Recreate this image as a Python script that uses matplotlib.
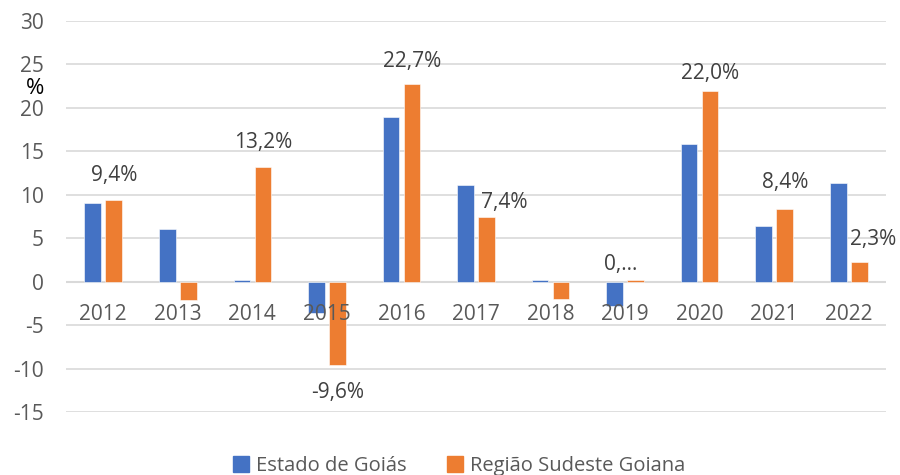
import matplotlib
matplotlib.use('Agg')
import matplotlib.pyplot as plt
import numpy as np
from matplotlib.patches import Patch

plt.rcParams['font.family'] = ['Open Sans', 'DejaVu Sans']

years = ['2012', '2013', '2014', '2015', '2016', '2017', '2018', '2019', '2020', '2021', '2022']
goias = [9.1, 6.1, 0.2, -3.6, 19.0, 11.1, 0.2, -2.8, 15.9, 6.4, 11.4]
sudeste = [9.4, -2.1, 13.2, -9.6, 22.7, 7.4, -2.0, 0.2, 22.0, 8.4, 2.3]
# labels shown on the orange series (None = no label)
sudeste_labels = ['9,4%', None, '13,2%', '-9,6%', '22,7%', '7,4%', None, '0,...', '22,0%', '8,4%', '2,3%']
# label offsets in pixels (dx, dy) relative to the bar end
label_offsets = [(0, 24), None, (0, 24), (0, -27), (0, 23), (18, 15), None, (-15, 15), (0, 17), (0, 26), (14, 22)]

BLUE = '#4472C4'
ORANGE = '#ED7D31'
GRID = '#D9D9D9'
TXT = '#595959'

fig = plt.figure(figsize=(9, 4.75), dpi=100)
ax = fig.add_axes([66 / 900, 1 - 412 / 475, (886 - 66) / 900, (412 - 21) / 475])

x = np.arange(len(years))
w = 0.224
off = 0.141
ax.bar(x - off, goias, w, color=BLUE, edgecolor='white', linewidth=0.4, zorder=1)
ax.bar(x + off, sudeste, w, color=ORANGE, edgecolor='white', linewidth=0.4, zorder=1)

yt = np.arange(-15, 31, 5)
for v in yt:
    ax.axhline(v, color=GRID, linewidth=1.5 if v == 0 else 1.2, zorder=0)

ax.set_xlim(-0.5, len(years) - 0.5)
ax.set_ylim(-15, 30)
ax.set_yticks(yt)
ax.set_yticklabels([str(v) for v in yt], fontsize=15, color=TXT)
ax.tick_params(axis='y', length=0, pad=16)

ax.spines['bottom'].set_position(('data', 0))
for s in ax.spines.values():
    s.set_visible(False)
ax.set_xticks(x)
ax.set_xticklabels(years, fontsize=15, color=TXT)
ax.tick_params(axis='x', length=0, pad=16)
ax.xaxis.set_zorder(3)

for i, (lab, o) in enumerate(zip(sudeste_labels, label_offsets)):
    if lab is None:
        continue
    dx, dy = o
    ax.annotate(lab, (x[i] + off, sudeste[i]), xytext=(dx * 0.72, dy * 0.72),
                textcoords='offset points', ha='center', va='center',
                fontsize=15, color='#404040', zorder=6)

fig.text(35 / 900, 1 - 88 / 475, '%', fontsize=16, color='black', ha='center', va='center')

handles = [Patch(color=BLUE, label='Estado de Goiás'), Patch(color=ORANGE, label='Região Sudeste Goiana')]
leg = fig.legend(handles=handles, loc='center', bbox_to_anchor=(0.51, 1 - 466 / 475), ncol=2,
                 frameon=False, fontsize=14.5, handlelength=0.8, handleheight=0.8,
                 handletextpad=0.35, columnspacing=2.0)
for t in leg.get_texts():
    t.set_color(TXT)

fig.savefig('out.png', dpi=100)
